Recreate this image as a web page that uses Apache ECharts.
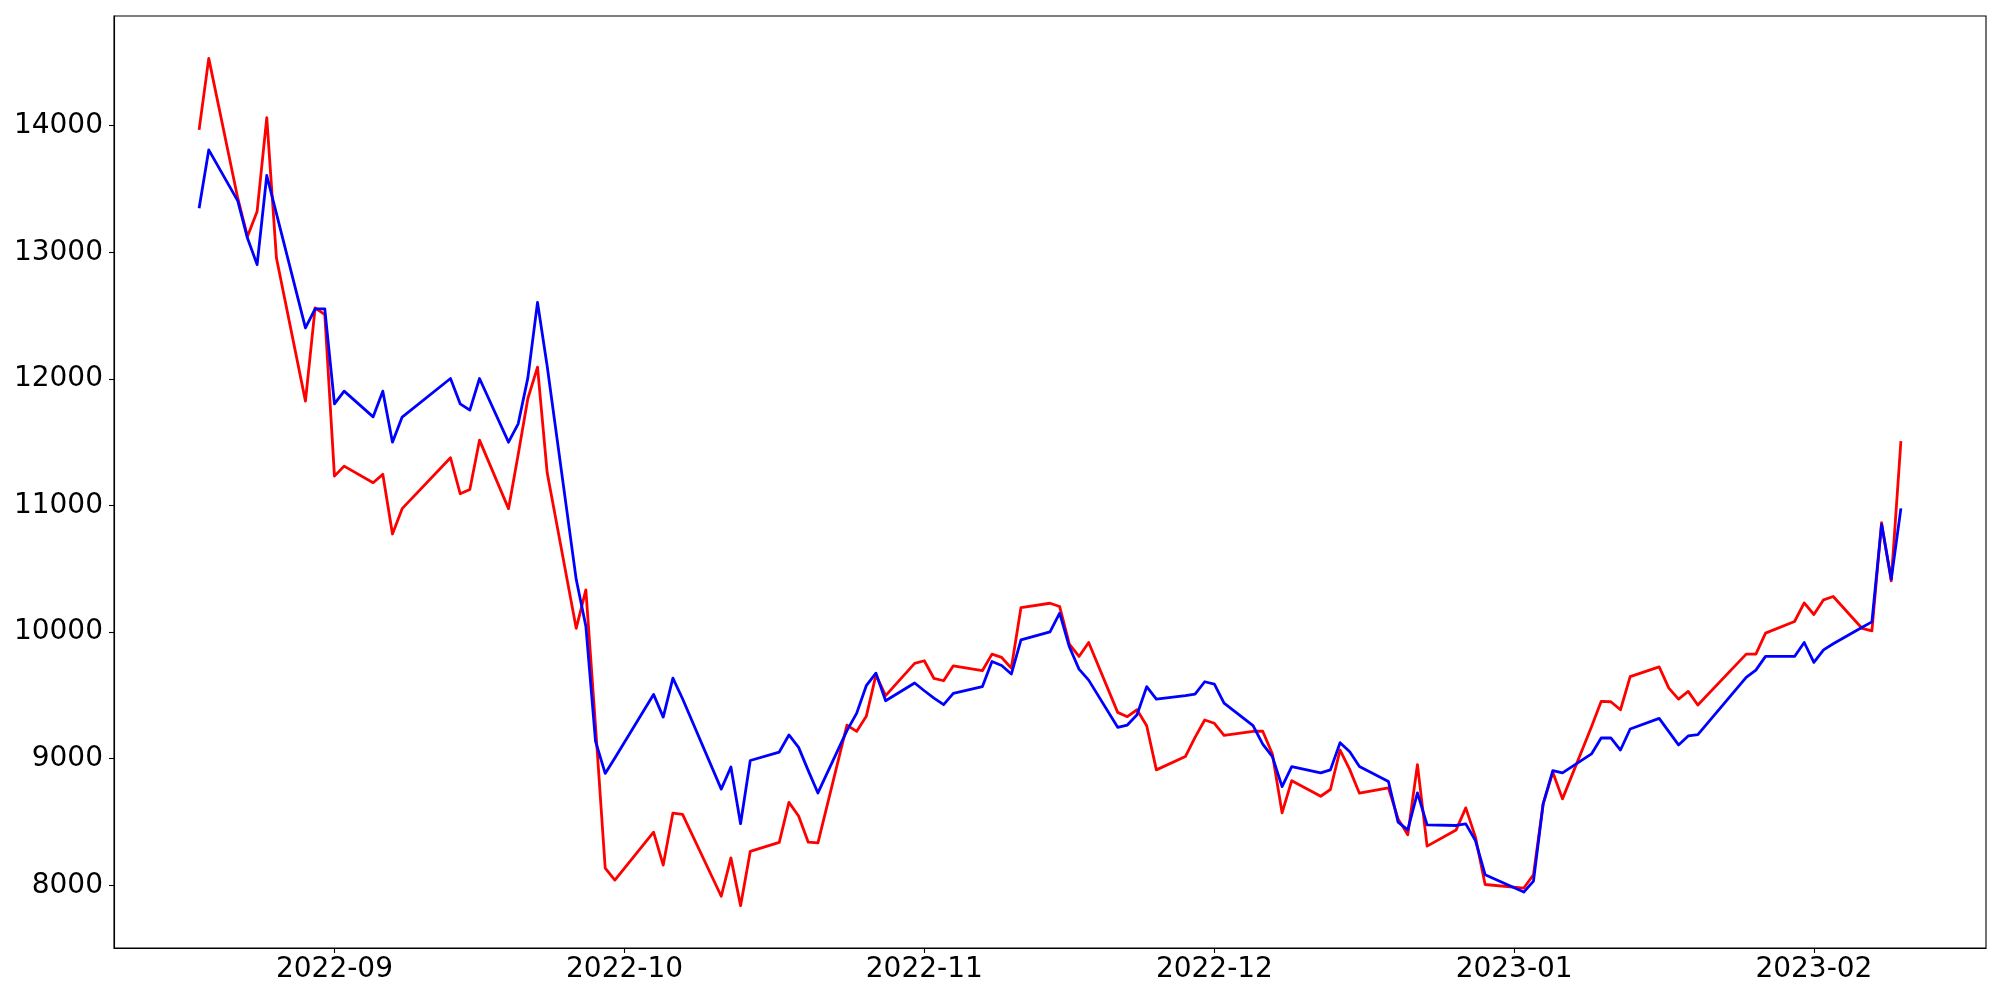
<!DOCTYPE html>
<html>
<head>
<meta charset="utf-8">
<script src="https://cdn.jsdelivr.net/npm/echarts@6/dist/echarts.min.js"></script>
<style>
html,body{margin:0;padding:0;background:#fff;}
#chart{width:2000px;height:1000px;}
</style>
</head>
<body>
<div id="chart"></div>
<script>
const dates = [
 '2022-08-18','2022-08-19','2022-08-22','2022-08-23','2022-08-24','2022-08-25','2022-08-26','2022-08-29','2022-08-30','2022-08-31',
 '2022-09-01','2022-09-02','2022-09-05','2022-09-06','2022-09-07','2022-09-08','2022-09-13','2022-09-14','2022-09-15','2022-09-16',
 '2022-09-19','2022-09-20','2022-09-21','2022-09-22','2022-09-23','2022-09-26','2022-09-27','2022-09-28','2022-09-29','2022-09-30',
 '2022-10-04','2022-10-05','2022-10-06','2022-10-07','2022-10-11','2022-10-12','2022-10-13','2022-10-14','2022-10-17','2022-10-18',
 '2022-10-19','2022-10-20','2022-10-21','2022-10-24','2022-10-25','2022-10-26','2022-10-27','2022-10-28','2022-10-31',
 '2022-11-01','2022-11-02','2022-11-03','2022-11-04','2022-11-07','2022-11-08','2022-11-09','2022-11-10','2022-11-11','2022-11-14',
 '2022-11-15','2022-11-16','2022-11-17','2022-11-18','2022-11-21','2022-11-22','2022-11-23','2022-11-24','2022-11-25','2022-11-28',
 '2022-11-29','2022-11-30',
 '2022-12-01','2022-12-02','2022-12-05','2022-12-06','2022-12-07','2022-12-08','2022-12-09','2022-12-12','2022-12-13','2022-12-14',
 '2022-12-15','2022-12-16','2022-12-19','2022-12-20','2022-12-21','2022-12-22','2022-12-23','2022-12-26','2022-12-27','2022-12-28',
 '2022-12-29',
 '2023-01-02','2023-01-03','2023-01-04','2023-01-05','2023-01-06','2023-01-09','2023-01-10','2023-01-11','2023-01-12','2023-01-13',
 '2023-01-16','2023-01-17','2023-01-18','2023-01-19','2023-01-20','2023-01-25','2023-01-26','2023-01-27','2023-01-30','2023-01-31',
 '2023-02-01','2023-02-02','2023-02-03','2023-02-06','2023-02-07','2023-02-08','2023-02-09','2023-02-10'
];

const redValues = [
 13966,14531,13427,13125,13322,14063,12954,11824,12560,12507,
 11232,11311,11180,11246,10775,10975,11377,11093,11127,11516,
 10975,11403,11845,12092,11258,10030,10333,9255,8137,8042,
 8420,8160,8571,8561,7914,8217,7840,8268,8339,8655,
 8548,8341,8336,9266,9216,9335,9661,9498,9753,
 9774,9634,9616,9734,9695,9826,9800,9716,10194,10228,
 10202,9905,9808,9918,9366,9332,9387,9261,8912,9017,
 9169,9306,
 9280,9185,9217,9217,9038,8573,8827,8704,8757,9069,
 8914,8728,8770,8525,8399,8954,8310,8438,8612,8381,
 8007,
 7979,8084,8643,8893,8683,9253,9453,9450,9387,9648,
 9726,9558,9471,9532,9424,9826,9826,9992,10084,10231,
 10139,10255,10281,10029,10010,10864,10404,11508
];

const blueValues = [
 13348,13808,13406,13112,12902,13606,13305,12402,12552,12552,
 11803,11903,11700,11903,11500,11698,12003,11803,11753,12003,
 11500,11645,12008,12604,12100,10417,10047,9137,8884,9006,
 9508,9329,9636,9474,8760,8935,8487,8986,9053,9188,
 9090,8906,8730,9222,9358,9577,9676,9458,9598,
 9537,9479,9427,9516,9569,9768,9736,9669,9939,10002,
 10150,9884,9708,9621,9248,9266,9348,9569,9471,9498,
 9511,9608,
 9590,9440,9261,9116,9017,8780,8938,8888,8912,9127,
 9056,8938,8820,8499,8438,8730,8478,8473,8486,8354,
 8084,
 7947,8034,8643,8906,8888,9038,9164,9164,9069,9235,
 9319,9214,9109,9180,9190,9642,9700,9808,9808,9918,
 9761,9860,9908,10039,10081,10851,10418,10977
];

const xTickLabels = ['2022-09','2022-10','2022-11','2022-12','2023-01','2023-02'];
const yTickLabels = [8000, 9000, 10000, 11000, 12000, 13000, 14000];

function ts(s) {
  const p = s.split('-').map(Number);
  return Date.UTC(p[0], p[1] - 1, p[2] || 1);
}

const times = dates.map(ts);
const redData = times.map((t, i) => [t, redValues[i]]);
const blueData = times.map((t, i) => [t, blueValues[i]]);
const xTickVals = xTickLabels.map(ts);

const tMin = times[0], tMax = times[times.length - 1];
const tPad = 0.05 * (tMax - tMin);
const allV = redValues.concat(blueValues);
const vMin = Math.min.apply(null, allV), vMax = Math.max.apply(null, allV);
const vPad = 0.05 * (vMax - vMin);

const FONT = 'DejaVu Sans';
const chart = echarts.init(document.getElementById('chart'), null, {renderer: 'canvas'});
chart.setOption({
  animation: false,
  backgroundColor: '#ffffff',
  grid: {
    left: 114, right: 14, top: 16, bottom: 52,
    show: true, borderColor: '#000000', borderWidth: 1.1, backgroundColor: 'transparent'
  },
  xAxis: {
    type: 'value',
    min: tMin - tPad,
    max: tMax + tPad,
    scale: true,
    splitLine: {show: false},
    axisLine: {show: true, onZero: false, lineStyle: {color: '#000000', width: 1.1}},
    axisTick: {show: true, length: 5, lineStyle: {color: '#000000', width: 1.1}, customValues: xTickVals},
    axisLabel: {
      customValues: xTickVals,
      fontFamily: FONT, fontSize: 28, color: '#000000', margin: 8,
      formatter: function (v) {
        let best = 0, bd = Infinity;
        xTickVals.forEach((t, i) => { const d = Math.abs(t - v); if (d < bd) { bd = d; best = i; } });
        return xTickLabels[best];
      }
    }
  },
  yAxis: {
    type: 'value',
    min: vMin - vPad,
    max: vMax + vPad,
    scale: true,
    splitLine: {show: false},
    axisLine: {show: true, lineStyle: {color: '#000000', width: 1.1}},
    axisTick: {show: true, length: 5, lineStyle: {color: '#000000', width: 1.1}, customValues: yTickLabels},
    axisLabel: {
      customValues: yTickLabels,
      fontFamily: FONT, fontSize: 28, color: '#000000', margin: 11,
      formatter: function (v) { return String(Math.round(v)); }
    }
  },
  series: [
    {
      type: 'line', data: redData, showSymbol: false, symbol: 'none',
      lineStyle: {color: '#ff0000', width: 2.8, join: 'round'},
      emphasis: {disabled: true}, silent: true
    },
    {
      type: 'line', data: blueData, showSymbol: false, symbol: 'none',
      lineStyle: {color: '#0000ff', width: 2.8, join: 'round'},
      emphasis: {disabled: true}, silent: true
    }
  ]
});
</script>
</body>
</html>
